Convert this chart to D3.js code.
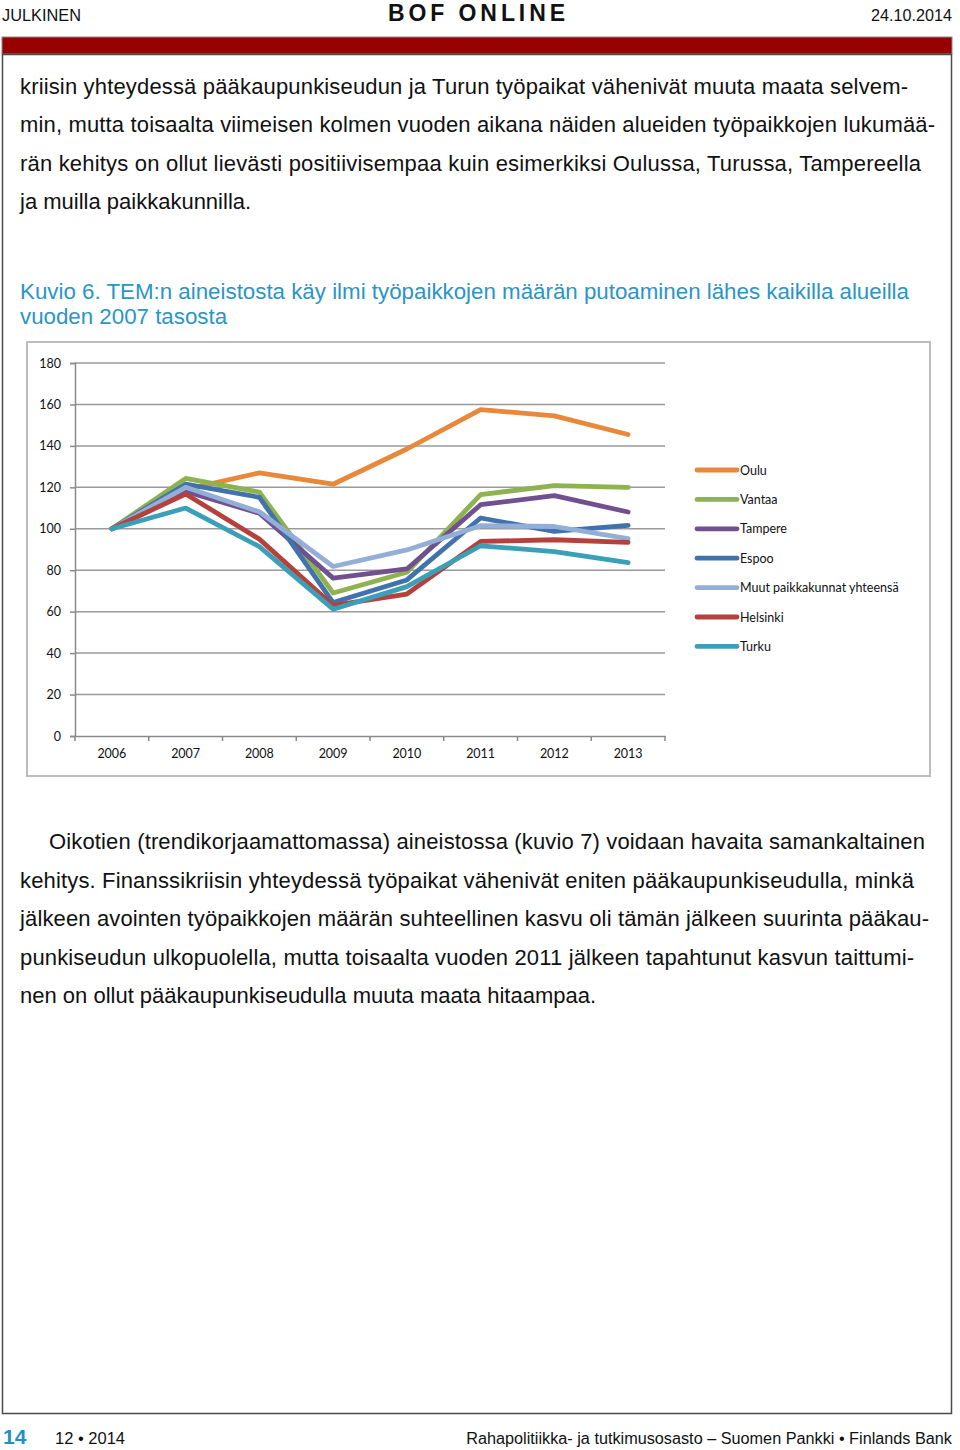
<!DOCTYPE html>
<html>
<head>
<meta charset="utf-8">
<script src="https://cdn.jsdelivr.net/npm/d3@7"></script>
<style>
  html, body { margin: 0; padding: 0; background: #fff; }
  svg { display: block; }
</style>
</head>
<body>
<svg id="page" width="960" height="1450"></svg>
<script>
// ---- DATA ----
const years = ["2006", "2007", "2008", "2009", "2010", "2011", "2012", "2013"];
const seriesNames = ["Oulu", "Vantaa", "Tampere", "Espoo", "Muut paikkakunnat yhteensä", "Helsinki", "Turku"];
const oulu     = [100, 119.0, 127.0, 121.5, 138.5, 157.5, 154.5, 145.5];
const vantaa   = [100, 124.3, 117.7, 69.0, 79.0, 116.5, 120.8, 120.0];
const tampere  = [100, 118.0, 107.5, 76.2, 80.6, 111.6, 116.0, 108.1];
const espoo    = [100, 121.5, 115.2, 64.4, 75.3, 105.2, 98.7, 101.6];
const muut     = [100, 120.0, 108.2, 81.8, 89.8, 101.5, 101.1, 95.3];
const helsinki = [100, 116.8, 95.0, 63.0, 68.5, 93.9, 94.7, 93.4];
const turku    = [100, 110.0, 91.4, 61.2, 72.1, 91.8, 89.0, 83.7];
const seriesValues = [oulu, vantaa, tampere, espoo, muut, helsinki, turku];
const seriesColors = ["#e8883a", "#8db24f", "#70508f", "#4272ac", "#93afd8", "#b5413d", "#3b9fb7"];
const yTicks = [0, 20, 40, 60, 80, 100, 120, 140, 160, 180];

const para1 = [
  "kriisin yhteydessä pääkaupunkiseudun ja Turun työpaikat vähenivät muuta maata selvem-",
  "min, mutta toisaalta viimeisen kolmen vuoden aikana näiden alueiden työpaikkojen lukumää-",
  "rän kehitys on ollut lievästi positiivisempaa kuin esimerkiksi Oulussa, Turussa, Tampereella",
  "ja muilla paikkakunnilla."
];
const para1Right = [908, 935, 921, null];
const caption = [
  "Kuvio 6. TEM:n aineistosta käy ilmi työpaikkojen määrän putoaminen lähes kaikilla alueilla",
  "vuoden 2007 tasosta"
];
const para2 = [
  "Oikotien (trendikorjaamattomassa) aineistossa (kuvio 7) voidaan havaita samankaltainen",
  "kehitys. Finanssikriisin yhteydessä työpaikat vähenivät eniten pääkaupunkiseudulla, minkä",
  "jälkeen avointen työpaikkojen määrän suhteellinen kasvu oli tämän jälkeen suurinta pääkau-",
  "punkiseudun ulkopuolella, mutta toisaalta vuoden 2011 jälkeen tapahtunut kasvun taittumi-",
  "nen on ollut pääkaupunkiseudulla muuta maata hitaampaa."
];
const para2Right = [925, 914, 929, 914, null];

const svg = d3.select("#page");

// fit a text's font size so that it spans the given width
function fit(t, width) {
  const size = +t.attr("font-size");
  const w = t.node().getComputedTextLength();
  if (w > 0) t.attr("font-size", (size * width / w).toFixed(2));
  return t;
}

// ---- page frame ----
svg.append("rect").attr("x", 2).attr("y", 37).attr("width", 950).attr("height", 17)
  .attr("fill", "#990000").attr("stroke", "#8a8a8a").attr("stroke-width", 1);
svg.append("rect").attr("x", 2.5).attr("y", 54.5).attr("width", 949).attr("height", 1359)
  .attr("fill", "none").attr("stroke", "#4a4a4a").attr("stroke-width", 1.5);

// header
fit(svg.append("text").attr("x", 2).attr("y", 21)
  .attr("font-family", "Liberation Sans Narrow, Liberation Sans, sans-serif")
  .attr("font-size", 16).attr("fill", "#111").text("JULKINEN"), 79);
svg.append("text").attr("x", 388).attr("y", 21)
  .attr("font-family", "Liberation Sans, Arial, sans-serif").attr("font-weight", "bold")
  .attr("font-size", 23).attr("fill", "#111")
  .attr("textLength", 177).attr("lengthAdjust", "spacing").text("BOF ONLINE");
fit(svg.append("text").attr("x", 952).attr("y", 21).attr("text-anchor", "end")
  .attr("font-family", "Liberation Sans Narrow, Liberation Sans, sans-serif")
  .attr("font-size", 16).attr("fill", "#111").text("24.10.2014"), 81);

// body text
function para(lines, rights, x0, firstX, y0, lh, size, color) {
  lines.forEach((s, i) => {
    const x = i === 0 ? firstX : x0;
    const t = svg.append("text").attr("x", x).attr("y", y0 + i * lh)
      .attr("font-family", "Liberation Sans, Arial, sans-serif")
      .attr("font-size", size).attr("fill", color).text(s);
    if (rights[i]) t.attr("textLength", rights[i] - x).attr("lengthAdjust", "spacing");
  });
}
para(para1, para1Right, 20, 20, 93.5, 38.5, 22, "#111");
para(caption, [909, null], 20, 20, 299, 25, 22.3, "#2a95c6");
para(para2, para2Right, 20, 49, 849, 38.5, 22, "#111");

// footer
svg.append("text").attr("x", 3).attr("y", 1444)
  .attr("font-family", "Liberation Sans Narrow, Liberation Sans, sans-serif").attr("font-weight", "bold")
  .attr("font-size", 21).attr("fill", "#1f8fc8").text("14");
fit(svg.append("text").attr("x", 55).attr("y", 1444)
  .attr("font-family", "Liberation Sans Narrow, Liberation Sans, sans-serif")
  .attr("font-size", 17).attr("fill", "#111").text("12 • 2014"), 70);
fit(svg.append("text").attr("x", 952).attr("y", 1444).attr("text-anchor", "end")
  .attr("font-family", "Liberation Sans Narrow, Liberation Sans, sans-serif")
  .attr("font-size", 17).attr("fill", "#111")
  .text("Rahapolitiikka- ja tutkimusosasto – Suomen Pankki • Finlands Bank"), 486);

// ---- chart ----
svg.append("rect").attr("x", 27).attr("y", 342).attr("width", 903).attr("height", 434)
  .attr("fill", "#fff").attr("stroke", "#bdbdbd").attr("stroke-width", 2);

const x = d3.scaleBand().domain(years).range([75, 665]);
const y = d3.scaleLinear().domain([0, 180]).range([736, 363]);
const cx = d => x(d) + x.bandwidth() / 2;

const chart = svg.append("g").attr("font-family", "Lato, 'Open Sans', sans-serif");

// gridlines
chart.append("g").selectAll("line").data(yTicks.filter(v => v > 0)).join("line")
  .attr("x1", 75).attr("x2", 665).attr("y1", d => y(d)).attr("y2", d => y(d))
  .attr("stroke", "#9a9a9a").attr("stroke-width", 1.5);

// y axis
const yAxis = chart.append("g").attr("transform", "translate(75,0)")
  .call(d3.axisLeft(y).tickValues(yTicks).tickSize(5).tickPadding(9));
yAxis.select(".domain").attr("stroke", "#8a8a8a").attr("stroke-width", 1.5);
yAxis.selectAll(".tick line").attr("stroke", "#8a8a8a").attr("stroke-width", 1.5);
yAxis.selectAll("text").attr("font-size", 12.5).attr("fill", "#111")
  .attr("font-family", "Lato, 'Open Sans', sans-serif");

// x axis
const xAxis = chart.append("g").attr("transform", "translate(0,736)")
  .call(d3.axisBottom(x).tickSize(0).tickPadding(13));
xAxis.select(".domain").attr("stroke", "#8a8a8a").attr("stroke-width", 1.5);
xAxis.selectAll("text").attr("font-size", 12.5).attr("fill", "#111")
  .attr("font-family", "Lato, 'Open Sans', sans-serif");
const bounds = years.map(d => x(d)).concat([x(years[years.length - 1]) + x.bandwidth()]);
chart.append("g").selectAll("line").data(bounds).join("line")
  .attr("x1", d => d).attr("x2", d => d).attr("y1", 736).attr("y2", 741)
  .attr("stroke", "#8a8a8a").attr("stroke-width", 1.5);

// lines
const line = d3.line().x((v, i) => cx(years[i])).y(v => y(v));
chart.append("g").selectAll("path").data(seriesValues).join("path")
  .attr("d", d => line(d)).attr("fill", "none")
  .attr("stroke", (d, i) => seriesColors[i]).attr("stroke-width", 4.8)
  .attr("stroke-linejoin", "round").attr("stroke-linecap", "round");

// legend
const leg = chart.append("g").selectAll("g").data(seriesNames).join("g")
  .attr("transform", (d, i) => `translate(0,${470 + i * 29.4})`);
leg.append("line").attr("x1", 697).attr("x2", 737).attr("y1", 0).attr("y2", 0)
  .attr("stroke", (d, i) => seriesColors[i]).attr("stroke-width", 4.8).attr("stroke-linecap", "round");
leg.append("text").attr("x", 740).attr("y", 4.5).attr("font-size", 12.5).attr("fill", "#111")
  .text(d => d);
</script>
</body>
</html>
